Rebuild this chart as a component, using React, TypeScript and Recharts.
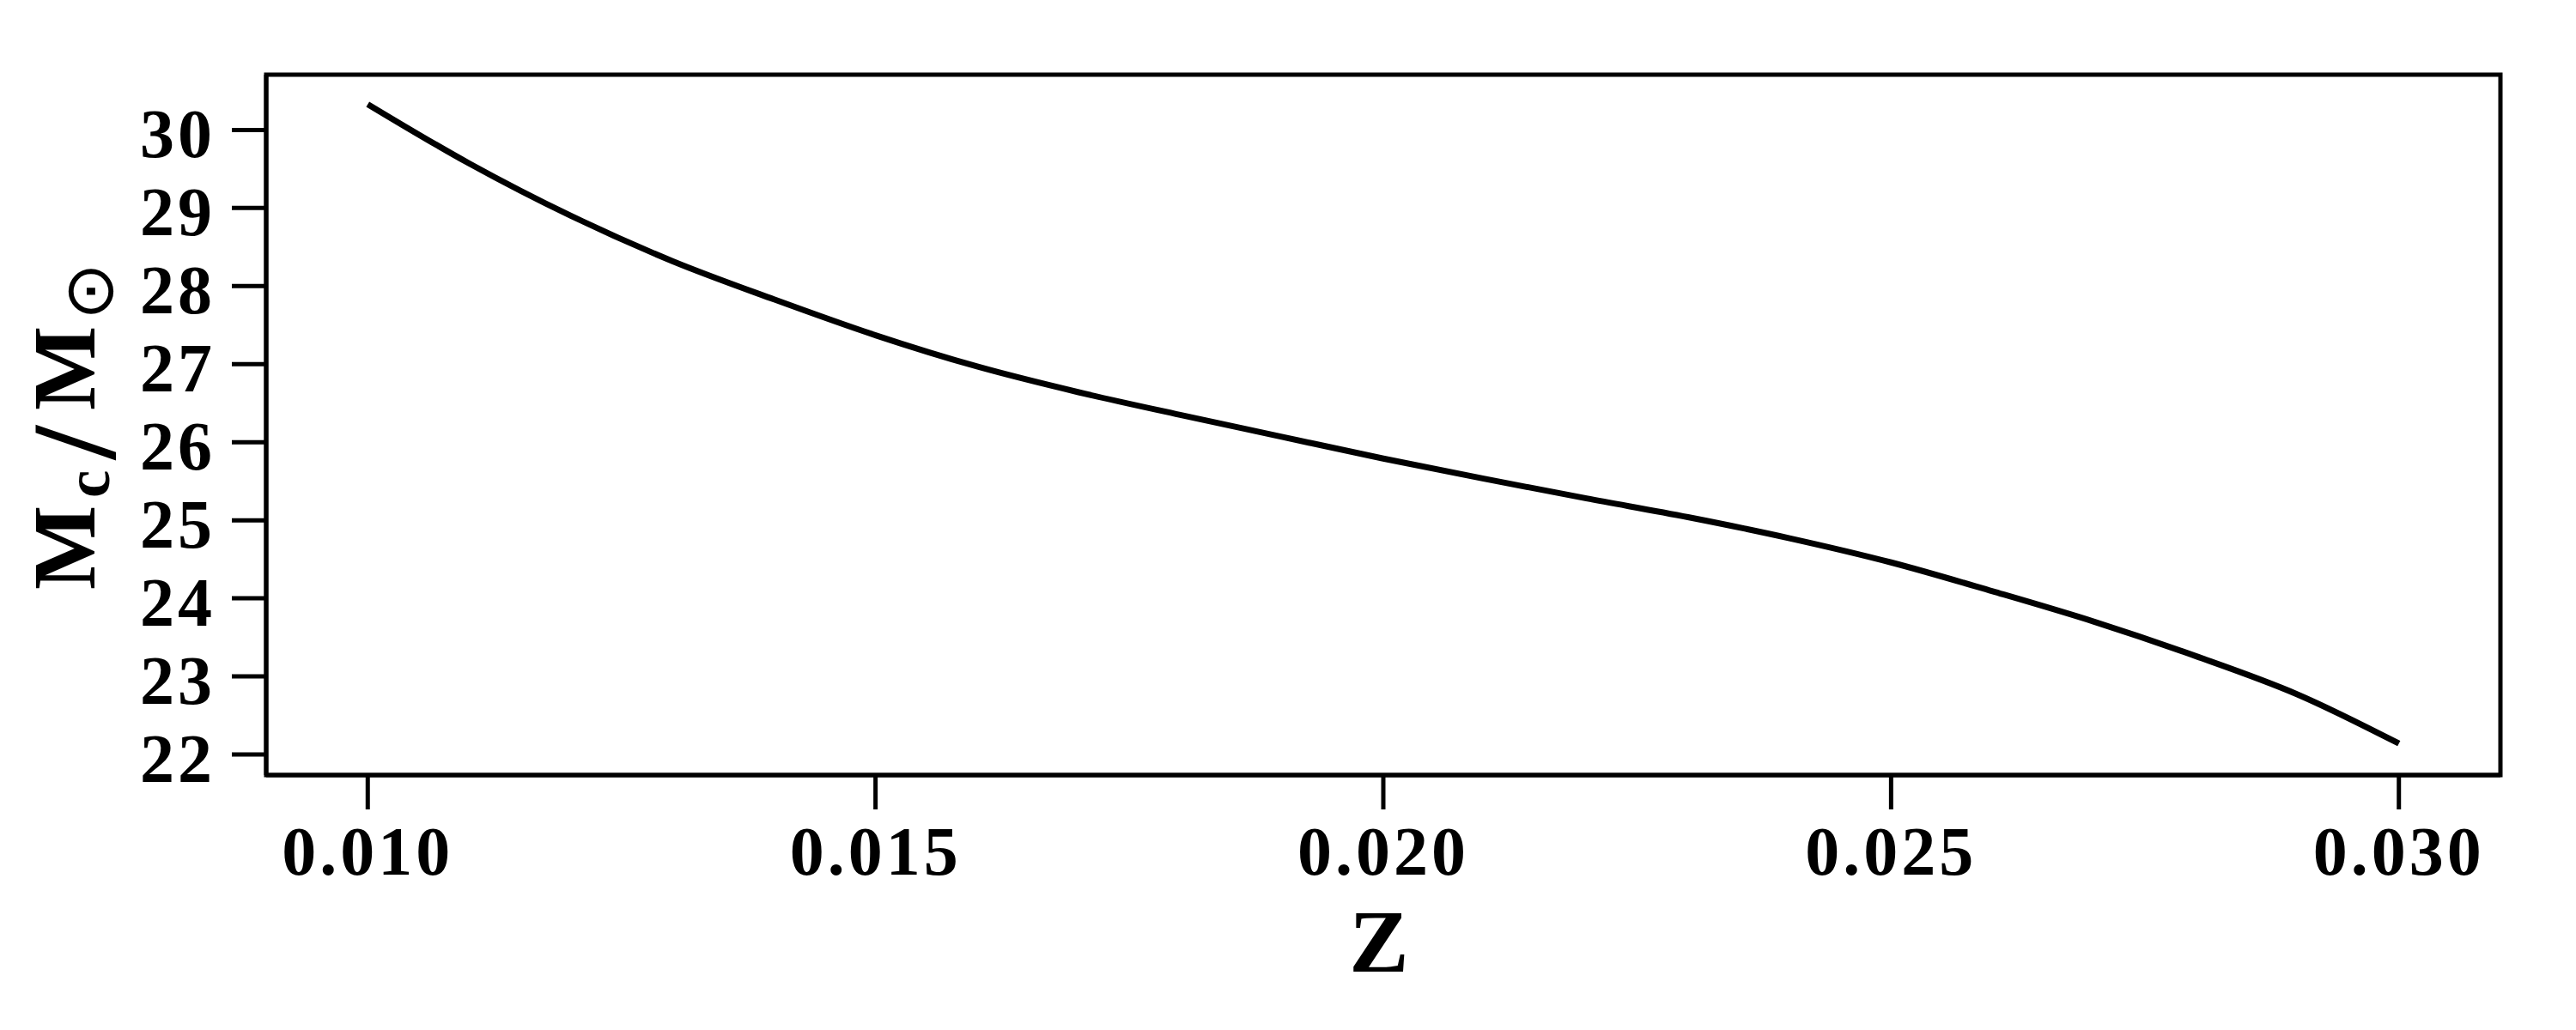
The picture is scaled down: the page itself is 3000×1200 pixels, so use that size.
import { LineChart, Line, XAxis, YAxis, ReferenceArea } from 'recharts';

// metallicity Z and core mass (solar masses)
const metallicity = [
  0.010, 0.011, 0.012, 0.013, 0.014, 0.015, 0.016, 0.017, 0.018, 0.019, 0.020,
  0.021, 0.022, 0.023, 0.024, 0.025, 0.026, 0.027, 0.028, 0.029, 0.030,
];
const coreMass = [
  30.33, 29.57, 28.9, 28.32, 27.83, 27.37, 26.97, 26.64, 26.35, 26.07, 25.79,
  25.53, 25.28, 25.04, 24.77, 24.46, 24.09, 23.7, 23.26, 22.77, 22.14,
];

const xTicks = [0.01, 0.015, 0.02, 0.025, 0.03];
const yTicks = [22, 23, 24, 25, 26, 27, 28, 29, 30];
const xDomain = [0.009, 0.031];
const yDomain = [21.736, 30.708];

const data = metallicity.map((z, i) => ({ z, mass: coreMass[i] }));

const FONT = 'Liberation Serif';

function XTick({ x, y, payload }: any) {
  return (
    <text
      x={x}
      y={y + 76}
      textAnchor="middle"
      fontFamily={FONT}
      fontWeight="bold"
      fontSize={80}
      letterSpacing={4}
      fill="#000"
    >
      {Number(payload.value).toFixed(3)}
    </text>
  );
}

function YTick({ x, y, payload }: any) {
  return (
    <text
      x={x}
      y={y + 32}
      textAnchor="end"
      fontFamily={FONT}
      fontWeight="bold"
      fontSize={80}
      letterSpacing={4}
      fill="#000"
    >
      {payload.value}
    </text>
  );
}

function XLabel({ viewBox }: any) {
  const cx = viewBox ? viewBox.x + viewBox.width / 2 - 5 : 1606;
  return (
    <text x={cx} y={1132} textAnchor="middle" fontFamily={FONT} fontWeight="bold" fontSize={104} fill="#000">
      Z
    </text>
  );
}

function YLabel() {
  return (
    <text transform="rotate(-90)" fontFamily={FONT} fontWeight="bold" fill="#000">
      <tspan x={-687} y={110} fontSize={104}>M</tspan>
      <tspan x={-580} y={127} fontSize={73}>c</tspan>
      <tspan x={-535} y={134} fontSize={140}>/</tspan>
      <tspan x={-478} y={110} fontSize={104}>M</tspan>
      <tspan x={-373} y={131} fontSize={80} fontFamily="DejaVu Sans" fontWeight="normal">⊙</tspan>
    </text>
  );
}

export default function App() {
  return (
    <div style={{ position: 'absolute', left: 0, top: 0, width: 3000, height: 1200, background: '#fff' }}>
      <LineChart width={3000} height={1200} data={data} margin={{ top: 87, right: 88, bottom: 0, left: 0 }}>
        <XAxis
          dataKey="z"
          type="number"
          domain={xDomain}
          ticks={xTicks}
          allowDataOverflow
          height={297}
          axisLine={{ stroke: '#000', strokeWidth: 5 }}
          tickLine={{ stroke: '#000', strokeWidth: 5 }}
          tickSize={40}
          tickMargin={0}
          tick={<XTick />}
          label={<XLabel />}
        />
        <YAxis
          type="number"
          domain={yDomain}
          ticks={yTicks}
          allowDataOverflow
          width={310}
          axisLine={{ stroke: '#000', strokeWidth: 5 }}
          tickLine={{ stroke: '#000', strokeWidth: 5 }}
          tickSize={40}
          tickMargin={19}
          tick={<YTick />}
          label={<YLabel />}
        />
        {/* plot frame */}
        <ReferenceArea
          x1={xDomain[0]}
          x2={xDomain[1]}
          y1={yDomain[0]}
          y2={yDomain[1]}
          fill="none"
          fillOpacity={0}
          stroke="#000"
          strokeWidth={5}
          ifOverflow="visible"
        />
        <Line
          type="monotone"
          dataKey="mass"
          stroke="#000"
          strokeWidth={7}
          dot={false}
          isAnimationActive={false}
        />
      </LineChart>
    </div>
  );
}
